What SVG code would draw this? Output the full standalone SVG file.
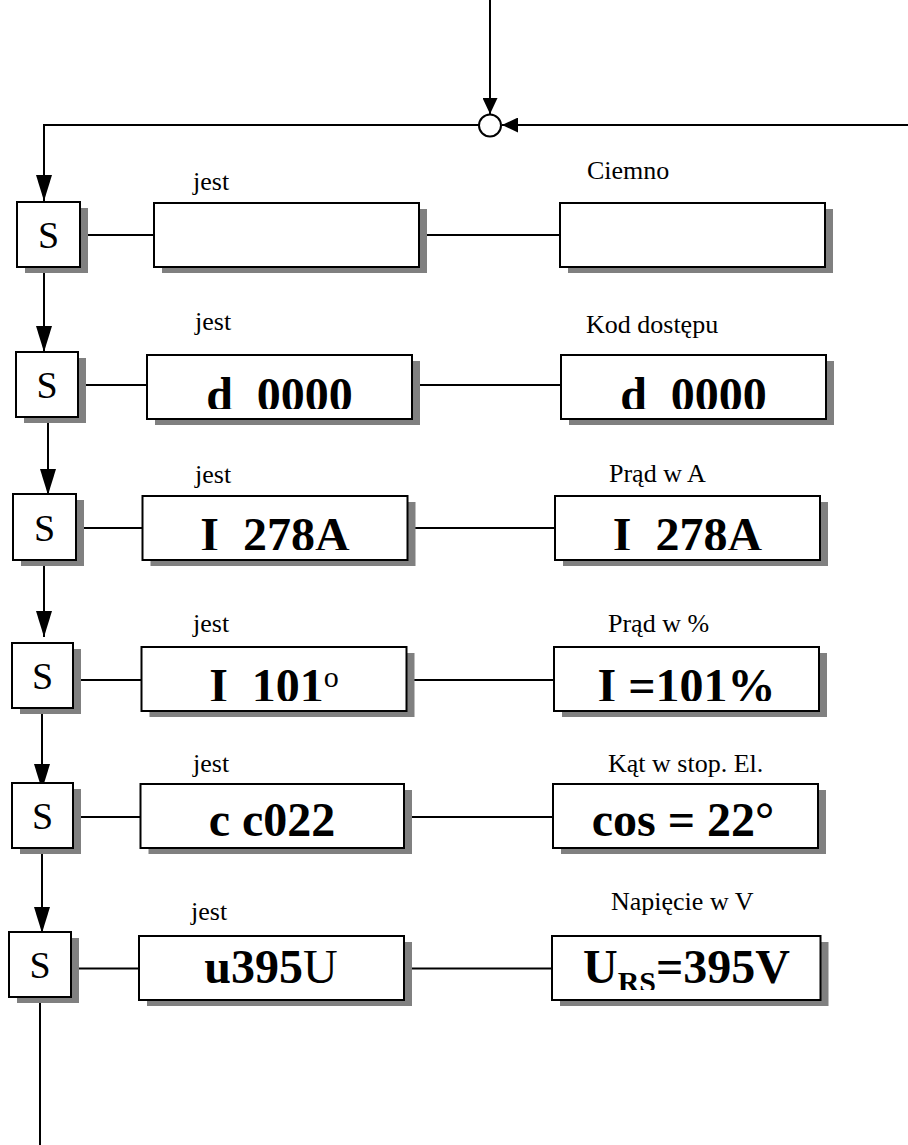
<svg xmlns="http://www.w3.org/2000/svg" width="908" height="1145" viewBox="0 0 908 1145">
<style>
.box{fill:#fff;stroke:#000;stroke-width:2}
.sh{fill:#808080}
.ln{fill:none;stroke:#000;stroke-width:2}
.s{font-family:"Liberation Serif","Times New Roman",serif;font-size:38px;text-anchor:middle}
.lb{font-family:"Liberation Serif","Times New Roman",serif;font-size:26px}
.v{font-family:"Liberation Serif","Times New Roman",serif;font-size:48px;font-weight:bold;text-anchor:middle}
.n{font-weight:normal}
</style>
<defs>
<marker id="ab" markerUnits="userSpaceOnUse" markerWidth="26" markerHeight="16" refX="26" refY="8" orient="auto"><path d="M0,0 L26,8 L0,16 z" fill="#000"/></marker>
<marker id="as" markerUnits="userSpaceOnUse" markerWidth="16" markerHeight="15" refX="16" refY="7.5" orient="auto"><path d="M0,0 L16,7.5 L0,15 z" fill="#000"/></marker>
<clipPath id="c2a" clipPathUnits="userSpaceOnUse"><rect x="147" y="355" width="265" height="54"/></clipPath>
<clipPath id="c2b" clipPathUnits="userSpaceOnUse"><rect x="561" y="355" width="265" height="54"/></clipPath>
<clipPath id="c3a" clipPathUnits="userSpaceOnUse"><rect x="142" y="496" width="266" height="54"/></clipPath>
<clipPath id="c3b" clipPathUnits="userSpaceOnUse"><rect x="555" y="496" width="265" height="54"/></clipPath>
<clipPath id="c4a" clipPathUnits="userSpaceOnUse"><rect x="141" y="647" width="266" height="54"/></clipPath>
<clipPath id="c4b" clipPathUnits="userSpaceOnUse"><rect x="554" y="647" width="265" height="54"/></clipPath>
<clipPath id="c5a" clipPathUnits="userSpaceOnUse"><rect x="140" y="784" width="264" height="54"/></clipPath>
<clipPath id="c5b" clipPathUnits="userSpaceOnUse"><rect x="553" y="784" width="265" height="54"/></clipPath>
<clipPath id="c6a" clipPathUnits="userSpaceOnUse"><rect x="139" y="936" width="265" height="54"/></clipPath>
<clipPath id="c6b" clipPathUnits="userSpaceOnUse"><rect x="552" y="936" width="268" height="54"/></clipPath>
</defs>

<g id="connectors">
<path class="ln" d="M490,0 V114" marker-end="url(#as)"/>
<path class="ln" d="M908,125 H502" marker-end="url(#as)"/>
<path class="ln" d="M479,125 H44 V201" marker-end="url(#ab)"/>
<path class="ln" d="M44,267 V352" marker-end="url(#ab)"/>
<path class="ln" d="M48,417 V495" marker-end="url(#ab)"/>
<path class="ln" d="M44,560 V637" marker-end="url(#ab)"/>
<path class="ln" d="M42,708 V790" marker-end="url(#ab)"/>
<path class="ln" d="M42,848 V933" marker-end="url(#ab)"/>
<path class="ln" d="M40,997 V1145"/>
<path class="ln" d="M78,235 H154 M419,235 H560"/>
<path class="ln" d="M76,385 H147 M412,385 H561"/>
<path class="ln" d="M74,528 H142 M408,528 H555"/>
<path class="ln" d="M71,680 H141 M407,680 H554"/>
<path class="ln" d="M71,817 H140 M404,817 H553"/>
<path class="ln" d="M69,968.5 H139 M404,968.5 H552"/>
</g>

<g id="junction"><circle cx="490" cy="125.5" r="11" fill="#fff" stroke="#000" stroke-width="2"/></g>

<g id="row1">
<g id="s1"><rect class="sh" x="25" y="208" width="63" height="65"/><rect class="box" x="17" y="202" width="63" height="65"/><text class="s" x="48.5" y="248">S</text></g>
<g id="b1a"><rect class="sh" x="162" y="209" width="265" height="64"/><rect class="box" x="154" y="203" width="265" height="64"/><text class="lb" x="193" y="190">jest</text></g>
<g id="b1b"><rect class="sh" x="568" y="209" width="265" height="64"/><rect class="box" x="560" y="203" width="265" height="64"/><text class="lb" x="587" y="179">Ciemno</text></g>
</g>

<g id="row2">
<g id="s2"><rect class="sh" x="24" y="358" width="62" height="65"/><rect class="box" x="16" y="352" width="62" height="65"/><text class="s" x="47" y="398">S</text></g>
<g id="b2a"><rect class="sh" x="155" y="361" width="265" height="64"/><rect class="box" x="147" y="355" width="265" height="64"/><text class="lb" x="195" y="330">jest</text><text class="v" x="279.5" y="410.5" clip-path="url(#c2a)">d&#160;&#160;0000</text></g>
<g id="b2b"><rect class="sh" x="569" y="361" width="265" height="64"/><rect class="box" x="561" y="355" width="265" height="64"/><text class="lb" x="586" y="333">Kod dostępu</text><text class="v" x="693.5" y="410.5" clip-path="url(#c2b)">d&#160;&#160;0000</text></g>
</g>

<g id="row3">
<g id="s3"><rect class="sh" x="21" y="500" width="63" height="66"/><rect class="box" x="13" y="494" width="63" height="66"/><text class="s" x="44.5" y="540.5">S</text></g>
<g id="b3a"><rect class="sh" x="150.5" y="502" width="265" height="64"/><rect class="box" x="142.5" y="496" width="265" height="64"/><text class="lb" x="195" y="483">jest</text><text class="v" x="275" y="550.5" clip-path="url(#c3a)">I&#160;&#160;278A</text></g>
<g id="b3b"><rect class="sh" x="563" y="502" width="265" height="64"/><rect class="box" x="555" y="496" width="265" height="64"/><text class="lb" x="609" y="482">Prąd w A</text><text class="v" x="687.5" y="550.5" clip-path="url(#c3b)">I&#160;&#160;278A</text></g>
</g>

<g id="row4">
<g id="s4"><rect class="sh" x="20" y="649" width="61" height="65"/><rect class="box" x="12" y="643" width="61" height="65"/><text class="s" x="42.5" y="689">S</text></g>
<g id="b4a"><rect class="sh" x="149.5" y="653" width="265" height="64"/><rect class="box" x="141.5" y="647" width="265" height="64"/><text class="lb" x="193" y="632">jest</text><text class="v" x="274" y="702" clip-path="url(#c4a)">I&#160;&#160;101<tspan class="n" font-size="30" dy="-15">o</tspan></text></g>
<g id="b4b"><rect class="sh" x="562" y="653" width="265" height="64"/><rect class="box" x="554" y="647" width="265" height="64"/><text class="lb" x="608" y="632">Prąd w %</text><text class="v" x="686.5" y="702" clip-path="url(#c4b)">I =101%</text></g>
</g>

<g id="row5">
<g id="s5"><rect class="sh" x="20" y="789" width="61" height="65"/><rect class="box" x="12" y="783" width="61" height="65"/><text class="s" x="42.5" y="829">S</text></g>
<g id="b5a"><rect class="sh" x="148.5" y="790" width="263.5" height="64"/><rect class="box" x="140.5" y="784" width="263.5" height="64"/><text class="lb" x="193" y="772">jest</text><text class="v" x="272" y="836" clip-path="url(#c5a)">c c022</text></g>
<g id="b5b"><rect class="sh" x="561" y="790" width="265" height="64"/><rect class="box" x="553" y="784" width="265" height="64"/><text class="lb" x="608" y="772">Kąt w stop. El.</text><text class="v" x="683" y="836" clip-path="url(#c5b)">cos = 22°</text></g>
</g>

<g id="row6">
<g id="s6"><rect class="sh" x="17" y="938" width="62" height="65"/><rect class="box" x="9" y="932" width="62" height="65"/><text class="s" x="40" y="978">S</text></g>
<g id="b6a"><rect class="sh" x="147" y="942" width="265" height="64"/><rect class="box" x="139" y="936" width="265" height="64"/><text class="lb" x="191" y="920">jest</text><text class="v" x="271" y="983" clip-path="url(#c6a)">u395<tspan class="n">U</tspan></text></g>
<g id="b6b"><rect class="sh" x="560" y="942" width="268.5" height="64"/><rect class="box" x="552" y="936" width="268.5" height="64"/><text class="lb" x="611" y="910">Napięcie w V</text><text class="v" x="686.5" y="983" clip-path="url(#c6b)">U<tspan font-size="30" dy="9">RS</tspan><tspan dy="-9">=395V</tspan></text></g>
</g>
</svg>
